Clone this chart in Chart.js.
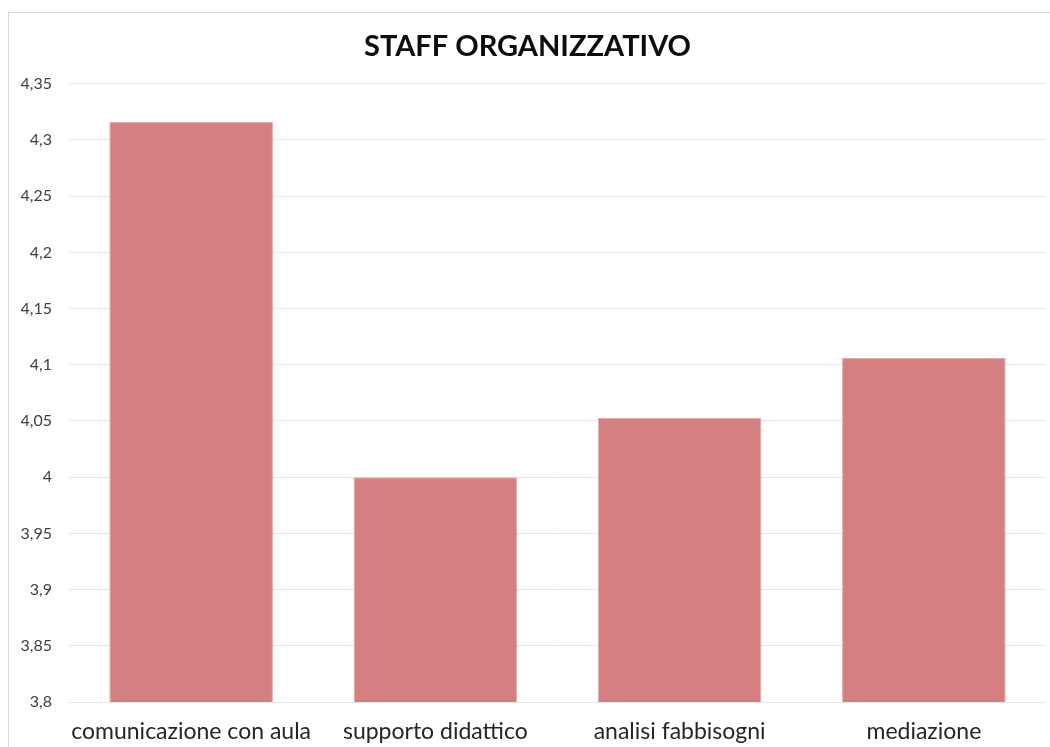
<!DOCTYPE html>
<html>
<head>
<meta charset="utf-8">
<script src="https://cdn.jsdelivr.net/npm/chart.js@4"></script>
<style>
  body { margin: 0; background: #fff; }
  #frame {
    position: absolute; left: 8px; top: 12px;
    width: 1060px; height: 745px;
    border: 1px solid #d9d9d9; box-sizing: border-box;
  }
  #wrap { position: absolute; left: 9px; top: 13px; width: 1041px; height: 734px; }
</style>
</head>
<body>
<div id="frame"></div>
<div id="wrap"><canvas id="barChart"></canvas></div>
<script>
const categories = ['comunicazione con aula', 'supporto didattico', 'analisi fabbisogni', 'mediazione'];
const values = [4.316, 4.0, 4.053, 4.106];
const yMin = 3.8;
const yMax = 4.35;
const yStep = 0.05;

const fontFamily = 'Lato, "Open Sans", sans-serif';

const ctx = document.getElementById('barChart').getContext('2d');
new Chart(ctx, {
  type: 'bar',
  data: {
    labels: categories,
    datasets: [{
      data: values,
      backgroundColor: '#d48080',
      borderColor: '#e3a9a9',
      borderWidth: 1,
      categoryPercentage: 1,
      barPercentage: 0.67
    }]
  },
  options: {
    responsive: true,
    maintainAspectRatio: false,
    animation: false,
    layout: { padding: { left: 0, right: 4, top: 0, bottom: 0 } },
    plugins: {
      legend: { display: false },
      tooltip: { enabled: false },
      title: {
        display: true,
        text: 'STAFF ORGANIZZATIVO',
        color: '#0d0d0d',
        font: { family: fontFamily, size: 29, weight: 'bold', lineHeight: 1.2 },
        padding: { top: 16, bottom: 20 }
      }
    },
    scales: {
      x: {
        grid: { display: false, drawTicks: false },
        border: { display: false },
        ticks: {
          color: '#262626',
          font: { family: fontFamily, size: 23 },
          padding: 16,
          maxRotation: 0
        },
        afterFit: s => { s.height = 45; }
      },
      y: {
        min: yMin,
        max: yMax,
        grid: { color: '#e6e6e6', lineWidth: 1, drawTicks: false },
        border: { display: false },
        ticks: {
          stepSize: yStep,
          color: '#404040',
          font: { family: fontFamily, size: 16 },
          padding: 17,
          callback: v => String(Number(v.toFixed(2))).replace('.', ',')
        },
        afterFit: s => { s.width = 60; }
      }
    }
  }
});
</script>
</body>
</html>
